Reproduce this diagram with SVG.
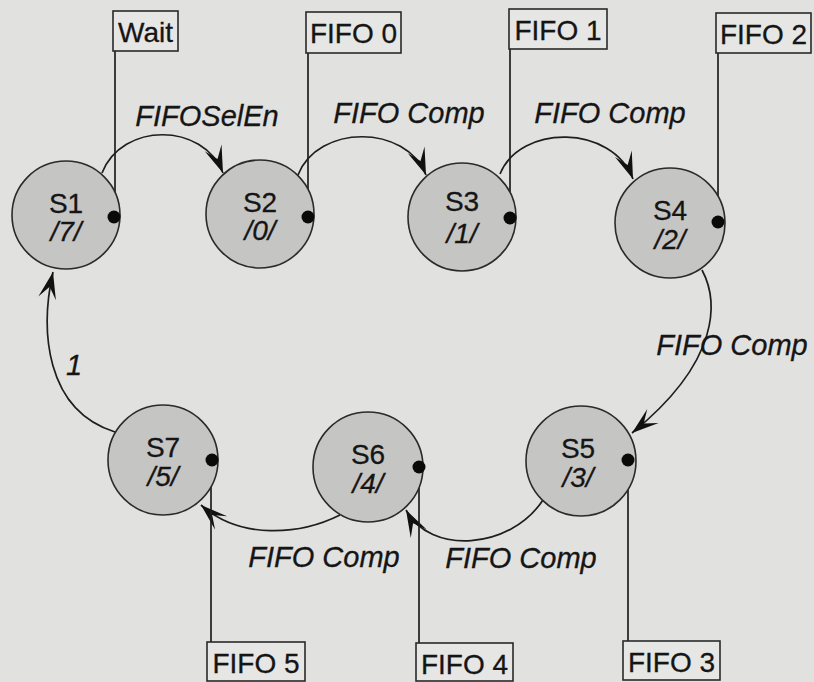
<svg xmlns="http://www.w3.org/2000/svg" width="814" height="682" viewBox="0 0 814 682">
<defs>
<style>
.st{fill:#c5c5c4;stroke:#2a2a2a;stroke-width:1.6}
.nm{font-family:"Liberation Sans",Arial,sans-serif;font-size:28px;fill:#151515;text-anchor:middle;stroke:#151515;stroke-width:0.3}
.out{font-family:"Liberation Sans",Arial,sans-serif;font-size:28px;font-style:italic;fill:#151515;text-anchor:middle;stroke:#151515;stroke-width:0.3}
.lbl{font-family:"Liberation Sans",Arial,sans-serif;font-size:29px;font-style:italic;fill:#151515;text-anchor:middle;stroke:#151515;stroke-width:0.3}
.box{fill:#e6e6e4;stroke:#2a2a2a;stroke-width:1.6}
.bt{font-family:"Liberation Sans",Arial,sans-serif;font-size:28px;fill:#151515;text-anchor:middle;stroke:#151515;stroke-width:0.3}
.dot{fill:#0a0a0a}
.arc{fill:none;stroke:#1e1e1e;stroke-width:1.7;marker-end:url(#arr)}
.wire{fill:none;stroke:#1e1e1e;stroke-width:1.7}
</style>
<marker id="arr" markerUnits="userSpaceOnUse" markerWidth="32" markerHeight="24" viewBox="-30 -12 32 24" refX="0" refY="0" orient="auto">
<path d="M0,0 L-27,-9 L-15,0 L-27,9 Z" fill="#111"/>
</marker>
</defs>
<rect x="0" y="0" width="814" height="682" fill="#e1e1df"/>

<g id="connectors">
<path class="arc" d="M102,173 C122,122 203,122 223,173"/>
<path class="arc" d="M298,175 C318,124 406,124 426,175"/>
<path class="arc" d="M500,174 C520,124 612,124 633,179"/>
<path class="arc" d="M702,270 C718,300 722,360 632,433"/>
<path class="arc" d="M543,500 C510,550 430,555 406,510"/>
<path class="arc" d="M340,515 C300,535 240,540 201,505"/>
<path class="arc" d="M115,432 C45,410 40,330 53,272"/>
<path class="wire" d="M115,51 V217"/>
<path class="wire" d="M308,53 V217"/>
<path class="wire" d="M510,49 V218"/>
<path class="wire" d="M718,53 V222"/>
<path class="wire" d="M628,460 V641"/>
<path class="wire" d="M419,467 V643"/>
<path class="wire" d="M211,460 V642"/>
</g>

<g id="S1"><circle class="st" cx="66" cy="215" r="54"/><text class="nm" x="66" y="213">S1</text><text class="out" x="66" y="241">/7/</text><circle class="dot" cx="114" cy="217" r="6.5"/></g>
<g id="S2"><circle class="st" cx="260" cy="214" r="54"/><text class="nm" x="260" y="212">S2</text><text class="out" x="260" y="240">/0/</text><circle class="dot" cx="308" cy="217" r="6.5"/></g>
<g id="S3"><circle class="st" cx="462" cy="217" r="54"/><text class="nm" x="462" y="211">S3</text><text class="out" x="462" y="243">/1/</text><circle class="dot" cx="510" cy="218" r="6.5"/></g>
<g id="S4"><circle class="st" cx="670" cy="223" r="55"/><text class="nm" x="670" y="220">S4</text><text class="out" x="670" y="249">/2/</text><circle class="dot" cx="718" cy="222" r="6.5"/></g>
<g id="S5"><circle class="st" cx="581" cy="461" r="55"/><text class="nm" x="578" y="458">S5</text><text class="out" x="578" y="487">/3/</text><circle class="dot" cx="628" cy="460" r="6.5"/></g>
<g id="S6"><circle class="st" cx="368" cy="467" r="55"/><text class="nm" x="368" y="464">S6</text><text class="out" x="368" y="493">/4/</text><circle class="dot" cx="419" cy="467" r="6.5"/></g>
<g id="S7"><circle class="st" cx="163" cy="460" r="55"/><text class="nm" x="163" y="457">S7</text><text class="out" x="163" y="486">/5/</text><circle class="dot" cx="212" cy="460" r="6.5"/></g>

<g id="labels">
<text class="lbl" x="207" y="126">FIFOSelEn</text>
<text class="lbl" x="409" y="123">FIFO Comp</text>
<text class="lbl" x="610" y="123">FIFO Comp</text>
<text class="lbl" x="732" y="355">FIFO Comp</text>
<text class="lbl" x="521" y="568">FIFO Comp</text>
<text class="lbl" x="324" y="567">FIFO Comp</text>
<text class="lbl" x="74" y="375">1</text>
</g>

<g id="box-wait"><rect class="box" x="113" y="11" width="65" height="40"/><text class="bt" x="145.5" y="42">Wait</text></g>
<g id="box-fifo0"><rect class="box" x="306" y="12" width="95" height="41"/><text class="bt" x="353.5" y="43">FIFO 0</text></g>
<g id="box-fifo1"><rect class="box" x="509" y="9" width="98" height="40"/><text class="bt" x="558" y="40">FIFO 1</text></g>
<g id="box-fifo2"><rect class="box" x="716" y="13" width="95" height="40"/><text class="bt" x="763.5" y="44">FIFO 2</text></g>
<g id="box-fifo3"><rect class="box" x="623" y="641" width="97" height="39"/><text class="bt" x="671.5" y="672">FIFO 3</text></g>
<g id="box-fifo4"><rect class="box" x="416" y="643" width="97" height="38"/><text class="bt" x="464.5" y="674">FIFO 4</text></g>
<g id="box-fifo5"><rect class="box" x="207" y="642" width="98" height="39"/><text class="bt" x="256" y="673">FIFO 5</text></g>
</svg>
